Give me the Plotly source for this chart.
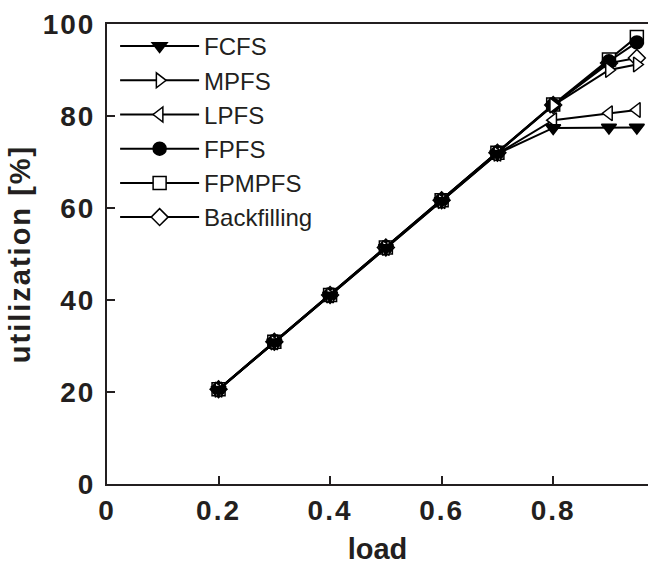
import plotly.graph_objects as go

load = [0.2, 0.3, 0.4, 0.5, 0.6, 0.7, 0.8, 0.9, 0.95]
fcfs = [20.5, 30.8, 41.0, 51.3, 61.5, 71.8, 77.4, 77.5, 77.5]
mpfs = [20.5, 30.8, 41.0, 51.3, 61.5, 71.8, 82.3, 90.0, 91.2]
lpfs = [20.5, 30.8, 41.0, 51.3, 61.5, 71.8, 79.1, 80.6, 81.3]
fpfs = [20.6, 30.9, 41.1, 51.4, 61.7, 72.0, 82.4, 91.9, 96.0]
fpmpfs = [20.6, 30.9, 41.1, 51.4, 61.7, 72.0, 82.5, 92.3, 97.2]
backfill = [20.6, 30.9, 41.1, 51.4, 61.7, 72.0, 82.4, 91.5, 92.6]

x_ticks = [0, 0.2, 0.4, 0.6, 0.8]
x_labels = ["0", "0.2", "0.4", "0.6", "0.8"]
y_ticks = [0, 20, 40, 60, 80, 100]
y_labels = ["0", "20", "40", "60", "80", "100"]

series = [
    ("FCFS", fcfs, "triangle-down", "black"),
    ("MPFS", mpfs, "triangle-right", "white"),
    ("LPFS", lpfs, "triangle-left", "white"),
    ("FPFS", fpfs, "circle", "black"),
    ("FPMPFS", fpmpfs, "square", "white"),
    ("Backfilling", backfill, "diamond", "white"),
]

INK = "#231f20"
SP = '<span style="letter-spacing:2px">{}</span>'

fig = go.Figure()
# draw in reverse so filled markers sit on top; legend order restored below
for name, ys, sym, fill in reversed(series):
    fig.add_trace(go.Scatter(
        x=load, y=ys, name=name, mode="lines+markers",
        line=dict(color="black", width=2),
        marker=dict(symbol=sym, size=13, color=fill,
                    line=dict(color="black", width=1.5)),
    ))

tickfont = dict(size=28, family="Liberation Sans, Arial", weight="bold", color=INK)

fig.update_layout(
    width=648, height=571,
    margin=dict(l=107, r=0, t=24, b=87),
    plot_bgcolor="white", paper_bgcolor="white",
    font=dict(family="Liberation Sans, Arial", color=INK),
    showlegend=True,
    legend=dict(x=0.015, y=1.0, xanchor="left", yanchor="top",
                traceorder="reversed",
                bgcolor="rgba(255,255,255,0)", font=dict(size=24, color=INK),
                itemwidth=79, tracegroupgap=0),
    xaxis=dict(range=[0, 0.97], tickvals=x_ticks,
               ticktext=[SP.format(t) for t in x_labels],
               ticks="inside", ticklen=8, tickwidth=1.5, tickcolor=INK,
               showline=True, linecolor=INK, linewidth=2, mirror=True,
               showgrid=False, zeroline=False, tickfont=tickfont,
               title=dict(text="<b>load</b>", font=dict(size=29, color=INK), standoff=14)),
    yaxis=dict(range=[0, 100], tickvals=y_ticks,
               ticktext=[SP.format(t) for t in y_labels],
               ticks="inside", ticklen=8, tickwidth=1.5, tickcolor=INK,
               showline=True, linecolor=INK, linewidth=2,
               showgrid=False, zeroline=False, tickfont=tickfont,
               ticklabelstandoff=4,
               title=dict(text='<b><span style="letter-spacing:2px">utilization [%]</span></b>',
                          font=dict(size=29, color=INK), standoff=4)),
)

fig.write_html("out.html")
